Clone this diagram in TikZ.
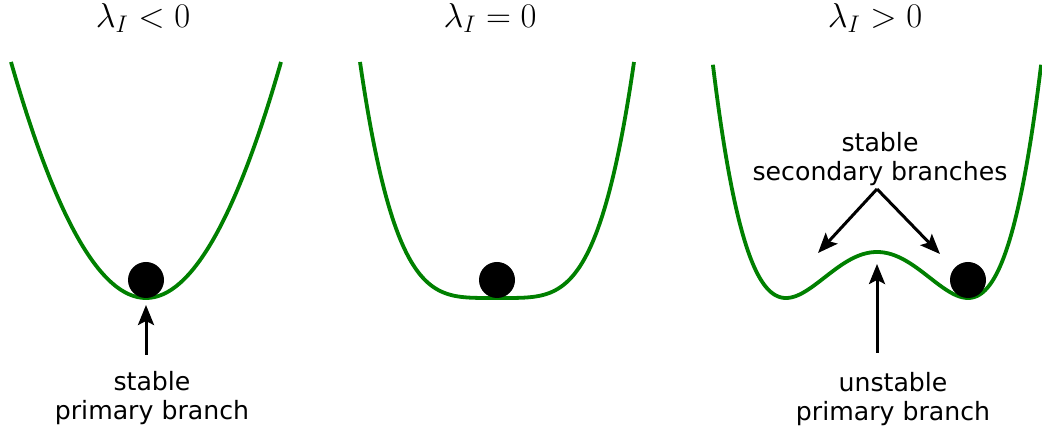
\documentclass[tikz,border=0pt]{standalone}
\usepackage{fontspec}
\setsansfont{DejaVu Sans}
\usetikzlibrary{arrows.meta}
\definecolor{wellgreen}{RGB}{0,128,0}

\begin{document}
\begin{tikzpicture}[x=0.5pt,y=-0.5pt,
	declare function={sq(\t)=\t*\t;},
	well/.style={draw=wellgreen,line width=1.9pt},
	ball/.style={circle,fill=black,minimum size=18pt,inner sep=0pt},
	pointer/.style={-{Stealth[length=10pt,width=8pt,inset=2pt]},line width=1.5pt},
	branch/.style={align=center,font=\sffamily\fontsize{12.6}{14.5}\selectfont},
	title/.style={font=\LARGE}]
	\useasboundingbox (0,0) rectangle (1042,431);

	% titles
	\node[title] (t1) at (143,18) {$\lambda_I<0$};
	\node[title] (t2) at (490,18) {$\lambda_I=0$};
	\node[title] (t3) at (875,18) {$\lambda_I>0$};

	% wells
	\draw[well] plot[domain=11:281,samples=120] (\x,{298-236*sq((\x-146)/135)});
	\draw[well] plot[domain=360:634,samples=160] (\x,{298-236*sq(sq((\x-497)/137))});
	\draw[well] plot[domain=712.9:1041.1,samples=200] (\x,{252-46*(sq(sq((\x-877)/91))-2*sq((\x-877)/91))});

	\node[ball] (ball1) at (146,280) {};
	\node[ball] (ball2) at (497,280) {};
	\node[ball] (ball3) at (968,280) {};

	% pointers
	\coordinate (tail1) at (146,355);
	\coordinate (min1) at (146,305);
	\draw[pointer] (tail1) -- (min1);
	\coordinate (fork) at (877,189);
	\coordinate (left3) at (818,253);
	\coordinate (right3) at (940,254);
	\draw[pointer] (fork) -- (left3);
	\draw[pointer] (fork) -- (right3);
	\coordinate (tail3) at (877,353);
	\coordinate (max3) at (877,264);
	\draw[pointer] (tail3) -- (max3);

	\node[branch] (lbl1) at (152,398) {stable\\primary branch};
	\node[branch] (lbl2) at (880,159) {stable\\secondary branches};
	\node[branch] (lbl3) at (893,399) {unstable\\primary branch};
\end{tikzpicture}
\end{document}
